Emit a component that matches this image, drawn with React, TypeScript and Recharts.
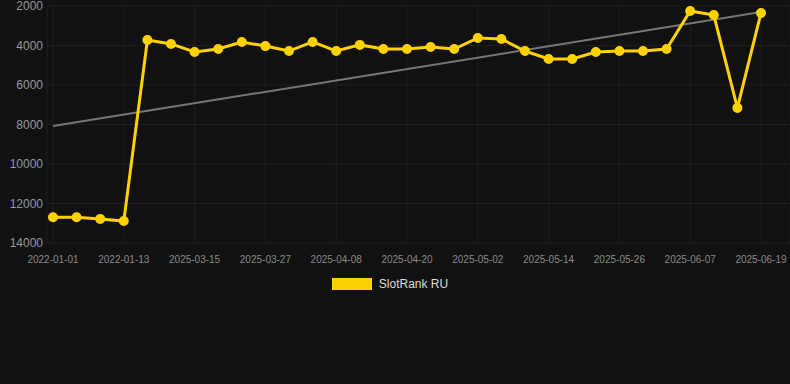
import React from "react";
import {
  LineChart,
  Line,
  XAxis,
  YAxis,
  CartesianGrid,
  Legend,
  ReferenceLine,
} from "recharts";

const dates = [
  "2022-01-01", "2022-01-05", "2022-01-09", "2022-01-13",
  "2025-03-07", "2025-03-11", "2025-03-15", "2025-03-19", "2025-03-23", "2025-03-27",
  "2025-03-31", "2025-04-04", "2025-04-08", "2025-04-12", "2025-04-16", "2025-04-20",
  "2025-04-24", "2025-04-28", "2025-05-02", "2025-05-06", "2025-05-10", "2025-05-14",
  "2025-05-18", "2025-05-22", "2025-05-26", "2025-05-30", "2025-06-03", "2025-06-07",
  "2025-06-11", "2025-06-15", "2025-06-19",
];

const rankValues = [
  12700, 12700, 12780, 12890,
  3720, 3920, 4330, 4180, 3820, 4030,
  4280, 3820, 4280, 3970, 4180, 4180,
  4080, 4180, 3620, 3670, 4280, 4680,
  4680, 4330, 4280, 4280, 4180, 2250,
  2460, 7160, 2350,
];

const tickLabels = [
  "2022-01-01", "2022-01-13", "2025-03-15", "2025-03-27", "2025-04-08", "2025-04-20",
  "2025-05-02", "2025-05-14", "2025-05-26", "2025-06-07", "2025-06-19",
];

const yTicks = [2000, 4000, 6000, 8000, 10000, 12000, 14000];

const trendStart = 8080;
const trendEnd = 2300;

const seriesName = "SlotRank RU";

const data = dates.map((d, i) => ({ date: d, rank: rankValues[i] }));

const LINE_COLOR = "#FFD200";

const renderLegend = () => (
  <div
    style={{
      display: "flex",
      justifyContent: "center",
      alignItems: "center",
      height: 20,
      fontFamily: "Arial, 'Liberation Sans', sans-serif",
      fontSize: 12,
      color: "#dddddd",
      paddingRight: 10,
    }}
  >
    <span
      style={{
        display: "inline-block",
        width: 40,
        height: 12,
        background: LINE_COLOR,
        marginRight: 7,
      }}
    />
    <span>{seriesName}</span>
  </div>
);

export default function App() {
  return (
    <div
      style={{
        position: "absolute",
        left: 0,
        top: 0,
        width: 790,
        height: 384,
        background: "#111111",
      }}
    >
      <LineChart
        width={790}
        height={384}
        data={data}
        margin={{ top: 6, right: 0, bottom: 91, left: 0 }}
      >
        <CartesianGrid stroke="#1f1f1f" strokeWidth={1} />
        <XAxis
          dataKey="date"
          ticks={tickLabels}
          interval={0}
          padding={{ left: 6, right: 29 }}
          tickLine={false}
          axisLine={false}
          tickSize={0}
          tickMargin={13}
          height={30}
          tick={{
            fill: "#8a8a8a",
            fontSize: 10,
            fontFamily: "Arial, 'Liberation Sans', sans-serif",
          }}
        />
        <YAxis
          reversed
          domain={[2000, 14000]}
          ticks={yTicks}
          interval={0}
          width={47}
          tickLine={false}
          axisLine={false}
          tickSize={0}
          tickMargin={4}
          allowDataOverflow
          tick={{
            fill: "#999999",
            fontSize: 12,
            fontFamily: "Arial, 'Liberation Sans', sans-serif",
          }}
        />
        <ReferenceLine
          segment={[
            { x: dates[0], y: trendStart },
            { x: dates[dates.length - 1], y: trendEnd },
          ]}
          stroke="#777777"
          strokeWidth={2}
          ifOverflow="visible"
        />
        <Line
          type="linear"
          dataKey="rank"
          name={seriesName}
          stroke={LINE_COLOR}
          strokeWidth={3}
          dot={{ r: 4, fill: LINE_COLOR, stroke: LINE_COLOR, strokeWidth: 2 }}
          activeDot={false}
          isAnimationActive={false}
        />
        <Legend
          verticalAlign="bottom"
          content={renderLegend}
          wrapperStyle={{ bottom: 90 }}
        />
      </LineChart>
    </div>
  );
}
